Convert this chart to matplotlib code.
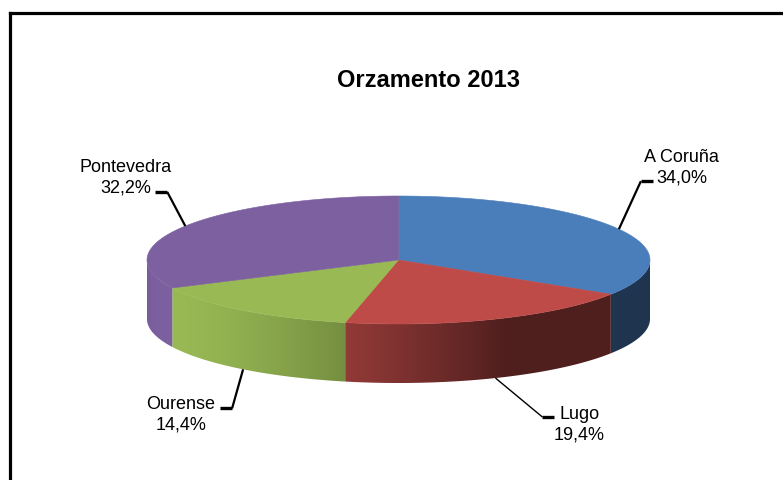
import numpy as np
import matplotlib
matplotlib.use('Agg')
import matplotlib.pyplot as plt
from matplotlib.patches import Polygon
from matplotlib.colors import to_rgb

plt.rcParams['font.family'] = ['Liberation Sans', 'DejaVu Sans']

# ---- data ----
title = 'Orzamento 2013'
categories = ['A Coruña', 'Lugo', 'Ourense', 'Pontevedra']
values = [34.0, 19.4, 14.4, 32.2]
colors = ['#4A7EBB', '#BE4B48', '#98B954', '#7D60A0']

# ---- layout (pixels) ----
W, H = 783, 481
CX, CY, A, B, DEPTH = 398.5, 261.0, 251.5, 64.0, 59.0
LIGHT = np.deg2rad(-155)
# label placement relative to the leader anchor on the pie
label_off = [(63, -68), (84, 40), (-62, 39), (-60, -55)]
elbow_off = [(22, -48), (47, 39), (-11, 39), (-18, -34)]
tail_len = [12, 12, -12, -12]
leader_lw = [1.6, 1.0, 1.6, 1.6]

fig = plt.figure(figsize=(W / 100, H / 100), dpi=100)
ax = fig.add_axes([0, 0, 1, 1])
ax.set_xlim(0, W)
ax.set_ylim(H, 0)
ax.axis('off')


def pt(t, depth=0.0):
    return CX + A * np.cos(t), CY - B * np.sin(t) + depth


def shade(t):
    return 0.42 + 0.58 * np.clip(np.cos(t - LIGHT), 0, None)


fr = np.array(values) / np.sum(values)
starts = np.deg2rad(90 - 360 * np.concatenate([[0], np.cumsum(fr)[:-1]]))
ends = starts - 2 * np.pi * fr

# side walls (front half only), shaded with a horizontal gradient
for s, e, c in zip(starts, ends, colors):
    base = np.array(to_rgb(c))
    for shift in (0, 2 * np.pi, -2 * np.pi):
        lo = max(e + shift, -np.pi)
        hi = min(s + shift, 0.0)
        if hi <= lo:
            continue
        ts = np.linspace(lo, hi, 120)
        tx, ty = pt(ts)
        bx, by = pt(ts[::-1], DEPTH)
        poly = Polygon(np.column_stack([np.r_[tx, bx], np.r_[ty, by]]),
                       closed=True, facecolor='none', edgecolor='none')
        ax.add_patch(poly)
        x0, x1 = pt(lo)[0], pt(hi)[0]
        xs = np.linspace(x0, x1, 300)
        tt = -np.arccos(np.clip((xs - CX) / A, -1, 1))
        img = np.clip(base[None, None, :] * shade(tt)[None, :, None], 0, 1)
        ytop = min(ty.min(), by.min()) - 1
        ybot = max(ty.max(), by.max()) + 1
        im = ax.imshow(img, extent=(x0, x1, ybot, ytop), aspect='auto',
                       interpolation='bilinear', zorder=1)
        im.set_clip_path(poly)
        # thin outline in the same shading to avoid gaps
ax.set_xlim(0, W)
ax.set_ylim(H, 0)

# top faces
for s, e, c in zip(starts, ends, colors):
    ts = np.linspace(s, e, 200)
    xs, ys = pt(ts)
    poly = np.column_stack([np.r_[CX, xs], np.r_[CY, ys]])
    ax.add_patch(Polygon(poly, closed=True, facecolor=c, edgecolor=c,
                         lw=0.4, zorder=2))

# labels and leader lines
for i, (s, e, name, v) in enumerate(zip(starts, ends, categories, values)):
    m = 0.5 * (s + e)
    ax_, ay_ = pt(m, DEPTH if np.sin(m) < 0 else 0.0)
    ex, ey = ax_ + elbow_off[i][0], ay_ + elbow_off[i][1]
    ax.plot([ax_, ex], [ay_, ey], color='black', lw=leader_lw[i],
            solid_capstyle='butt', zorder=3)
    ax.plot([ex, ex + tail_len[i]], [ey, ey], color='black', lw=2.4,
            solid_capstyle='butt', zorder=3)
    lx, ly = ax_ + label_off[i][0], ay_ + label_off[i][1]
    pct = f'{v:.1f}%'.replace('.', ',')
    ax.text(lx, ly, name, ha='center', va='baseline', fontsize=13)
    ax.text(lx, ly + 20.5, pct, ha='center', va='baseline', fontsize=13)

# title
ax.text(428.5, 87, title, ha='center', va='baseline', fontsize=17,
        fontweight='bold')

# chart frame (only top and left edges visible in the crop)
ax.plot([9.5, W + 10], [13.5, 13.5], color='black', lw=2.3,
        solid_capstyle='projecting')
ax.plot([9.5, 9.5], [13.5, H + 10], color='black', lw=2.3,
        solid_capstyle='projecting')

fig.savefig('out.png', dpi=100)
